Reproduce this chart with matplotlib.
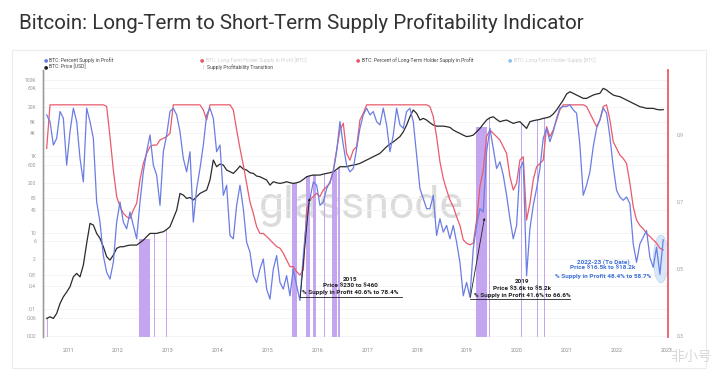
import matplotlib
matplotlib.use('Agg')
import matplotlib.pyplot as plt
import matplotlib.dates as mdates
from matplotlib.patches import Ellipse, Rectangle
import numpy as np
import pandas as pd

plt.rcParams['font.family'] = ['Roboto', 'DejaVu Sans']

# readings taken at evenly spaced dates
dates = pd.date_range('2010-07-28', '2022-12-10', periods=186)

supply_profit = [
    0.96, 0.94, 0.87, 0.89, 0.97, 0.95, 0.81, 0.91, 0.98, 0.94,
    0.83, 0.76, 0.98, 0.94, 0.89, 0.70, 0.64, 0.54, 0.49, 0.47,
    0.52, 0.64, 0.70, 0.64, 0.62, 0.67, 0.63, 0.59, 0.70, 0.79,
    0.85, 0.90, 0.81, 0.78, 0.69, 0.85, 0.90, 0.97, 0.98, 0.96,
    0.91, 0.83, 0.79, 0.85, 0.64, 0.74, 0.80, 0.87, 0.96, 0.98,
    0.95, 0.85, 0.87, 0.72, 0.75, 0.60, 0.59, 0.69, 0.75, 0.68,
    0.58, 0.55, 0.48, 0.46, 0.50, 0.53, 0.44, 0.41, 0.50, 0.54,
    0.46, 0.44, 0.48, 0.42, 0.50, 0.45, 0.406, 0.54, 0.65, 0.71,
    0.76, 0.75, 0.69, 0.70, 0.74, 0.76, 0.79, 0.85, 0.94, 0.87,
    0.81, 0.79, 0.80, 0.86, 0.92, 0.96, 0.98, 0.96, 0.97, 0.94,
    0.93, 0.98, 0.93, 0.85, 0.90, 0.98, 0.93, 0.92, 0.97, 0.98,
    0.94, 0.84, 0.74, 0.71, 0.68, 0.68, 0.72, 0.60, 0.65, 0.61,
    0.63, 0.59, 0.63, 0.58, 0.52, 0.42, 0.46, 0.416, 0.56, 0.63,
    0.68, 0.67, 0.85, 0.92, 0.86, 0.80, 0.82, 0.78, 0.72, 0.65,
    0.59, 0.63, 0.80, 0.82, 0.48, 0.62, 0.69, 0.74, 0.80, 0.89,
    0.92, 0.88, 0.91, 0.95, 0.98, 0.985, 0.985, 0.99, 0.975, 0.965,
    0.87, 0.72, 0.75, 0.79, 0.865, 0.92, 0.945, 0.98, 0.965, 0.895,
    0.805, 0.735, 0.715, 0.705, 0.715, 0.695, 0.575, 0.52, 0.575, 0.595,
    0.615, 0.535, 0.505, 0.565, 0.484, 0.587,
]

lth_profit = [
    0.86, 0.99, 0.99, 0.99, 0.99, 0.99, 0.99, 0.99, 0.99, 0.99,
    0.99, 0.99, 0.99, 0.99, 0.99, 0.99, 0.99, 0.99, 0.985, 0.895,
    0.795, 0.716, 0.686, 0.666, 0.656, 0.651, 0.676, 0.696, 0.766, 0.815,
    0.845, 0.865, 0.87, 0.87, 0.885, 0.89, 0.895, 0.905, 0.99, 0.99,
    0.99, 0.99, 0.99, 0.99, 0.99, 0.99, 0.99, 0.975, 0.945, 0.99,
    0.99, 0.99, 0.99, 0.99, 0.99, 0.99, 0.975, 0.915, 0.86, 0.81,
    0.755, 0.70, 0.666, 0.626, 0.606, 0.606, 0.597, 0.587, 0.577, 0.567,
    0.562, 0.547, 0.527, 0.507, 0.507, 0.492, 0.482, 0.497, 0.676, 0.706,
    0.716, 0.726, 0.716, 0.736, 0.746, 0.756, 0.795, 0.855, 0.915, 0.935,
    0.845, 0.825, 0.855, 0.865, 0.945, 0.965, 0.99, 0.99, 0.99, 0.99,
    0.99, 0.99, 0.99, 0.99, 0.99, 0.99, 0.99, 0.99, 0.99, 0.99,
    0.99, 0.99, 0.99, 0.99, 0.99, 0.985, 0.955, 0.895, 0.82, 0.77,
    0.736, 0.706, 0.686, 0.656, 0.63, 0.587, 0.577, 0.572, 0.577, 0.646,
    0.746, 0.795, 0.895, 0.915, 0.905, 0.895, 0.885, 0.865, 0.845, 0.776,
    0.736, 0.756, 0.825, 0.835, 0.646, 0.696, 0.766, 0.805, 0.815, 0.825,
    0.925, 0.895, 0.915, 0.945, 0.975, 0.99, 0.99, 0.99, 0.99, 0.99,
    0.99, 0.99, 0.985, 0.965, 0.945, 0.925, 0.945, 0.985, 0.99, 0.945,
    0.88, 0.86, 0.84, 0.83, 0.815, 0.756, 0.686, 0.646, 0.63, 0.62,
    0.606, 0.597, 0.587, 0.577, 0.562, 0.557,
]

price = [
    0.057, 0.063, 0.057, 0.077, 0.14, 0.21, 0.28, 0.385, 0.70, 0.86,
    0.70, 1.42, 5.3, 17.6, 15.9, 9.6, 7.1, 4.3, 2.35, 1.92,
    2.6, 3.9, 4.3, 4.3, 4.56, 4.75, 4.75, 4.75, 5.5, 6.4,
    7.9, 9.6, 9.6, 9.6, 10.2, 10.6, 12.2, 14.4, 23.8, 39,
    107, 97, 79, 84, 72, 88, 107, 119, 131, 240,
    802, 536, 630, 593, 439, 396, 359, 439, 558, 466,
    439, 373, 359, 305, 293, 265, 240, 177, 217, 204,
    196, 204, 217, 204, 196, 204, 217, 249, 293, 311,
    324, 324, 324, 344, 359, 373, 396, 456, 536, 536,
    536, 569, 593, 617, 656, 725, 802, 887, 980, 1080,
    1200, 1470, 1790, 2100, 2400, 2800, 3300, 4400, 6600, 10900,
    16400, 13400, 8950, 9900, 8950, 7600, 6600, 6200, 6200, 6200,
    6000, 5750, 4900, 4400, 4000, 3600, 3300, 3400, 3600, 4400,
    5400, 7000, 8950, 10300, 10900, 9300, 8100, 8600, 8950, 8100,
    7300, 7800, 8100, 6600, 5400, 8100, 8600, 8950, 9300, 9900,
    10300, 10900, 12900, 16400, 22100, 29900, 43000, 49400, 44800, 40500,
    36600, 33100, 33100, 36600, 40500, 43000, 44800, 60500, 54700, 46600,
    40500, 38100, 36600, 33100, 29900, 27000, 24500, 22100, 20000, 19200,
    18100, 18100, 18100, 17000, 16500, 16800,
]

# supply profitability transition periods (start, end)
transitions = [
    ('2010-07-30', '2010-08-04'), ('2012-01-13', '2012-01-18'),
    ('2012-03-19', '2012-03-24'), ('2012-06-02', '2012-08-22'),
    ('2012-09-22', '2012-09-27'), ('2012-12-18', '2012-12-23'),
    ('2015-06-29', '2015-08-04'), ('2015-10-08', '2015-11-06'),
    ('2015-11-28', '2015-12-20'), ('2016-02-19', '2016-02-24'),
    ('2016-04-20', '2016-05-26'), ('2016-06-03', '2016-06-18'),
    ('2019-01-28', '2019-02-02'), ('2019-03-08', '2019-05-27'),
    ('2019-06-12', '2019-06-17'), ('2020-02-01', '2020-02-06'),
    ('2020-05-28', '2020-06-02'), ('2020-07-18', '2020-07-23'),
    ('2020-11-04', '2020-11-09'),
]

price_ticks = [0.02, 0.06, 0.1, 0.4, 0.8, 2, 6, 10, 40, 80, 200, 600,
               1000, 4000, 8000, 20000, 60000, 100000]
price_labels = ['0.02', '0.06', '0.1', '0.4', '0.8', '2', '6', '10', '40', '80',
                '200', '600', '1K', '4K', '8K', '20K', '60K', '100K']
pct_ticks = [0.3, 0.5, 0.7, 0.9]
years = list(range(2011, 2024))

BLUE = '#6b7de3'
RED = '#ea5a6b'
PURPLE = '#c3a5f0'
W, H = 718, 374

fig = plt.figure(figsize=(W / 100, H / 100), dpi=100)
fig.patch.set_facecolor('white')


def fx(x):
    return x / W


def fy(y):
    return 1 - y / H


# card border
fig.add_artist(Rectangle((fx(12), fy(368)), fx(706) - fx(12), fy(50) - fy(368),
                         transform=fig.transFigure, fill=False,
                         edgecolor='#ececec', lw=0.8))

fig.text(fx(19), fy(23), 'Bitcoin: Long-Term to Short-Term Supply Profitability Indicator',
         fontsize=14.8, color='#333333', va='center', ha='left')

ax = fig.add_axes([fx(43), fy(337), fx(668) - fx(43), fy(70) - fy(337)])
ax2 = ax.twinx()

ax.set_yscale('log')
ax.set_ylim(0.0186, 1.83e5)
ax2.set_ylim(0.297, 1.094)
ax.set_xlim(pd.Timestamp('2010-07-01'), pd.Timestamp('2023-01-14'))

# transition bars, up to the price line
xnum = mdates.date2num(dates)
for s, e in transitions:
    s0, e0 = mdates.date2num(pd.Timestamp(s)), mdates.date2num(pd.Timestamp(e))
    top = np.exp(np.interp((s0 + e0) / 2, xnum, np.log(price)))
    ax.bar(s0, top - 0.0186, bottom=0.0186, width=e0 - s0, align='edge',
           color=PURPLE, lw=0, zorder=1)

ax.plot(dates, price, color='#2a2a2a', lw=0.9, zorder=3)
ax2.plot(dates, lth_profit, color=RED, lw=0.9, zorder=3)
ax2.plot(dates, supply_profit, color=BLUE, lw=0.9, zorder=4)

ax.text(0.51, 0.49, 'glassnode', transform=ax.transAxes, fontsize=32,
        color='#c4c4c4', alpha=0.6, ha='center', va='center', zorder=0)

# grid + ticks
ax.set_yticks(price_ticks)
ax.set_yticklabels(price_labels)
ax.yaxis.set_minor_locator(matplotlib.ticker.NullLocator())
ax.grid(axis='y', color='#f2f2f2', lw=0.6)
ax.set_axisbelow(True)
ax.tick_params(axis='y', length=0, labelsize=3.6, labelcolor='#999999', pad=5)
ax.set_xticks([pd.Timestamp(f'{y}-01-01') for y in years])
ax.set_xticklabels([str(y) for y in years])
ax.tick_params(axis='x', length=0, labelsize=3.8, labelcolor='#888888', pad=8)

ax2.set_yticks(pct_ticks)
ax2.set_yticklabels([str(t) for t in pct_ticks])
ax2.tick_params(axis='y', length=0, labelsize=3.6, labelcolor='#999999', pad=6)

for a in (ax, ax2):
    for sp in ('top', 'bottom'):
        a.spines[sp].set_visible(False)
ax.spines['right'].set_visible(False)
ax2.spines['left'].set_color('#999999')
ax2.spines['left'].set_linewidth(1.0)
ax2.spines['right'].set_color(RED)
ax2.spines['right'].set_linewidth(1.3)

# annotations
txt = dict(fontsize=4.6, fontweight='bold', ha='center', va='center', zorder=6)
ax2.text(pd.Timestamp('2016-08-28'), 0.470, '2015', color='#222222', **txt)
ax2.text(pd.Timestamp('2016-08-28'), 0.452, 'Price \\$230 to \\$460', color='#222222', **txt)
ax2.text(pd.Timestamp('2016-08-28'), 0.431, '% Supply in Profit 40.6% to 78.4%', color='#222222', **txt)
ax2.plot([pd.Timestamp('2015-08-27'), pd.Timestamp('2017-09-13')], [0.416, 0.416],
         color='#222222', lw=0.6, zorder=6)
ax2.annotate('', xy=(pd.Timestamp('2015-11-06'), 0.72), xytext=(pd.Timestamp('2015-08-27'), 0.407),
             arrowprops=dict(arrowstyle='-|>', color='#222222', lw=0.6, mutation_scale=3), zorder=6)

ax2.text(pd.Timestamp('2020-02-10'), 0.464, '2019', color='#222222', **txt)
ax2.text(pd.Timestamp('2020-02-10'), 0.443, 'Price \\$3.6k to \\$5.2k', color='#222222', **txt)
ax2.text(pd.Timestamp('2020-02-10'), 0.422, '% Supply in Profit 41.6% to 66.6%', color='#222222', **txt)
ax2.plot([pd.Timestamp('2019-01-23'), pd.Timestamp('2021-01-26')], [0.41, 0.41],
         color='#222222', lw=0.6, zorder=6)
ax2.annotate('', xy=(pd.Timestamp('2019-05-14'), 0.661), xytext=(pd.Timestamp('2019-01-23'), 0.407),
             arrowprops=dict(arrowstyle='-|>', color='#222222', lw=0.6, mutation_scale=3), zorder=6)

ax2.text(pd.Timestamp('2021-09-24'), 0.521, '2022-23 (To Date)', color='#3d6fd6', **txt)
ax2.text(pd.Timestamp('2021-09-24'), 0.503, 'Price \\$16.5k to \\$18.2k', color='#3d6fd6', **txt)
ax2.text(pd.Timestamp('2021-09-24'), 0.479, '% Supply in Profit 48.4% to 58.7%', color='#3d6fd6', **txt)
ax2.add_patch(Ellipse((mdates.date2num(pd.Timestamp('2022-11-23')), 0.53), 110, 0.143,
                      facecolor='#a9cdf2', edgecolor='#8fbff0', alpha=0.45, lw=0.6, zorder=2))

# legend
leg = dict(fontsize=3.6, va='center', ha='left')
fig.text(fx(44), fy(60), '●', color=BLUE, **leg)
fig.text(fx(49), fy(60), 'BTC: Percent Supply in Profit', color='#444444', **leg)
fig.text(fx(44), fy(67), '●', color='#222222', **leg)
fig.text(fx(49), fy(67), 'BTC: Price [USD]', color='#444444', **leg)
fig.text(fx(200), fy(60), '●', color=RED, **leg)
fig.text(fx(206), fy(60), 'BTC: Long-Term Holder Supply in Profit [BTC]', color='#d2d2d2', **leg)
fig.text(fx(202.5), fy(67), '|', color=PURPLE, **leg)
fig.text(fx(207), fy(67), 'Supply Profitability Transition', color='#444444', **leg)
fig.text(fx(356), fy(60), '●', color=RED, **leg)
fig.text(fx(362), fy(60), 'BTC: Percent of Long-Term Holder Supply in Profit', color='#444444', **leg)
fig.text(fx(508), fy(60), '●', color='#8cc3ee', **leg)
fig.text(fx(514), fy(60), 'BTC: Long-Term Holder Supply [BTC]', color='#d2d2d2', **leg)

# site watermark, bottom right
fig.text(fx(712), fy(357), '非小号', fontsize=10, color='#d9d9d9', ha='right', va='center',
         family=['Noto Sans CJK SC', 'DejaVu Sans'])

fig.savefig('out.png', dpi=100)
